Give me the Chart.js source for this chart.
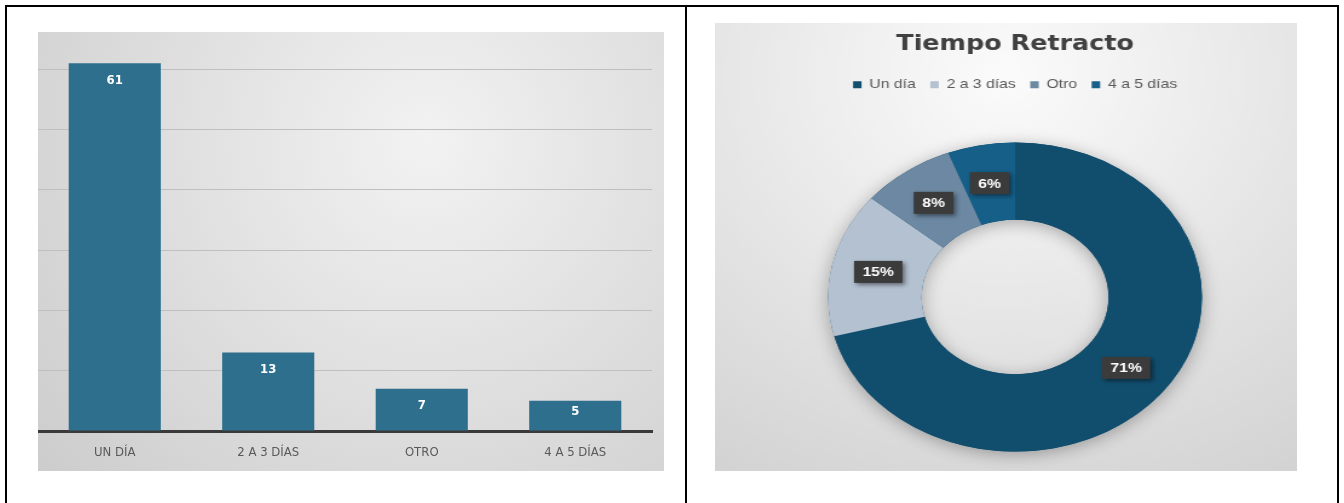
<!DOCTYPE html>
<html lang="es">
<head>
<meta charset="utf-8">
<title>Tiempo Retracto</title>
<script src="https://cdn.jsdelivr.net/npm/chart.js@4.4.1/dist/chart.umd.min.js"></script>
<style>
  html, body { margin: 0; padding: 0; background: #fff; }
  body { width: 1344px; height: 503px; position: relative; overflow: hidden; }
  .linea { position: absolute; background: #000; }
  #barras { position: absolute; left: 38px; top: 32px; }
  #dona { position: absolute; left: 715px; top: 23px; }
</style>
</head>
<body>
<div class="linea" style="left:5px; top:5px; width:1334px; height:2px"></div>
<div class="linea" style="left:5px; top:5px; width:2px; height:498px"></div>
<div class="linea" style="left:685px; top:5px; width:2px; height:498px"></div>
<div class="linea" style="left:1337px; top:5px; width:2px; height:498px"></div>
<canvas id="barras" width="626" height="439" style="width:626px; height:439px"></canvas>
<!-- la dona va estirada a lo ancho, como la imagen original -->
<canvas id="dona" width="481" height="470" style="width:582px; height:470px"></canvas>

<script>
// Datos
const categoriasBarras = ['UN DÍA', '2 A 3 DÍAS', 'OTRO', '4 A 5 DÍAS'];
const valoresBarras = [61, 13, 7, 5];
const tituloDona = 'Tiempo Retracto';
const categoriasDona = ['Un día', '2 a 3 días', 'Otro', '4 a 5 días'];
const valoresDona = [61, 13, 7, 5];
const coloresDona = ['#114e6e', '#b3c1d0', '#6c88a2', '#155f88'];

const fuenteAngosta = '"Liberation Sans Narrow", "DejaVu Sans Condensed", sans-serif';

document.addEventListener('DOMContentLoaded', () => {
    Chart.defaults.animation = false;
    Chart.defaults.plugins.tooltip.enabled = false;

    // Fondo gris degradado del grafico de barras
    const fondoBarras = {
        id: 'fondoBarras',
        beforeDraw(chart) {
            const { ctx, width, height } = chart;
            const g = ctx.createRadialGradient(width * 0.62, height * 0.25, 0, width * 0.62, height * 0.25, width * 0.8);
            g.addColorStop(0, '#f2f2f2');
            g.addColorStop(1, '#cdcdcd');
            ctx.save();
            ctx.fillStyle = g;
            ctx.fillRect(0, 0, width, height);
            ctx.restore();
        }
    };

    // Valores blancos dentro de cada barra
    const etiquetasBarras = {
        id: 'etiquetasBarras',
        afterDatasetsDraw(chart) {
            const { ctx } = chart;
            const meta = chart.getDatasetMeta(0);
            ctx.save();
            ctx.fillStyle = '#ffffff';
            ctx.font = 'bold 13px ' + fuenteAngosta;
            ctx.textAlign = 'center';
            ctx.textBaseline = 'middle';
            meta.data.forEach((bar, i) => {
                const alto = bar.base - bar.y;
                const y = bar.y + Math.min(17, alto - 19);
                ctx.fillText(String(valoresBarras[i]), bar.x, y);
            });
            ctx.restore();
        }
    };

    new Chart(document.getElementById('barras'), {
        type: 'bar',
        data: {
            labels: categoriasBarras,
            datasets: [{
                data: valoresBarras,
                backgroundColor: '#2e6f8e',
                borderWidth: 0,
                barPercentage: 0.6,
                categoryPercentage: 1.0
            }]
        },
        options: {
            responsive: false,
            devicePixelRatio: 1,
            layout: { padding: { left: 0, right: 12, top: 1, bottom: 0 } },
            plugins: { legend: { display: false } },
            scales: {
                x: {
                    grid: { display: false, drawTicks: false },
                    border: { display: true, color: '#3a3a3a', width: 3 },
                    ticks: {
                        color: '#595959',
                        padding: 14,
                        font: { family: fuenteAngosta, size: 13 }
                    },
                    afterFit: (scale) => { scale.height = 40; }
                },
                y: {
                    min: 0,
                    max: 66,
                    grid: { color: '#bfbfbf', lineWidth: 1, drawTicks: false },
                    border: { display: false },
                    ticks: { display: false, stepSize: 10, includeBounds: false }
                }
            }
        },
        plugins: [fondoBarras, etiquetasBarras]
    });

    // Fondo, sombra del anillo y etiquetas de porcentaje de la dona
    const fondoDona = {
        id: 'fondoDona',
        beforeDraw(chart) {
            const { ctx, width } = chart;
            const alto = 448;
            const g = ctx.createRadialGradient(width * 0.5, alto * 0.12, 0, width * 0.5, alto * 0.12, width * 0.95);
            g.addColorStop(0, '#fbfbfb');
            g.addColorStop(1, '#d3d3d3');
            ctx.save();
            ctx.fillStyle = g;
            ctx.fillRect(0, 0, width, alto);
            ctx.restore();
        },
        beforeDatasetsDraw(chart) {
            const { ctx } = chart;
            const arco = chart.getDatasetMeta(0).data[0];
            if (!arco) return;
            ctx.save();
            ctx.shadowColor = 'rgba(0, 0, 0, 0.3)';
            ctx.shadowBlur = 16;
            ctx.shadowOffsetY = 3;
            ctx.fillStyle = coloresDona[0];
            ctx.beginPath();
            ctx.arc(arco.x, arco.y, arco.outerRadius, 0, Math.PI * 2);
            ctx.arc(arco.x, arco.y, arco.innerRadius, 0, Math.PI * 2, true);
            ctx.fill('evenodd');
            ctx.restore();
        },
        afterDatasetsDraw(chart) {
            const { ctx } = chart;
            const meta = chart.getDatasetMeta(0);
            const total = valoresDona.reduce((a, b) => a + b, 0);
            ctx.save();
            ctx.font = 'bold 13px "Liberation Sans", Arial, sans-serif';
            ctx.textAlign = 'center';
            ctx.textBaseline = 'middle';
            meta.data.forEach((arco, i) => {
                const p = arco.getCenterPoint();
                const texto = Math.round(valoresDona[i] / total * 100) + '%';
                const w = ctx.measureText(texto).width + 14;
                const h = 22;
                ctx.save();
                ctx.shadowColor = 'rgba(0, 0, 0, 0.45)';
                ctx.shadowBlur = 4;
                ctx.shadowOffsetX = 2;
                ctx.shadowOffsetY = 2;
                ctx.fillStyle = '#3b3b3b';
                ctx.fillRect(p.x - w / 2, p.y - h / 2, w, h);
                ctx.restore();
                ctx.fillStyle = '#ffffff';
                ctx.fillText(texto, p.x, p.y + 1);
            });
            ctx.restore();
        }
    };

    new Chart(document.getElementById('dona'), {
        type: 'doughnut',
        data: {
            labels: categoriasDona,
            datasets: [{
                data: valoresDona,
                backgroundColor: coloresDona,
                borderWidth: 0,
                radius: 154.5,
                cutout: '50%'
            }]
        },
        options: {
            responsive: false,
            devicePixelRatio: 1,
            layout: { padding: { left: 15, right: 0, top: 0, bottom: 0 } },
            plugins: {
                title: {
                    display: true,
                    text: tituloDona,
                    color: '#404040',
                    font: { family: '"DejaVu Sans", sans-serif', size: 21, weight: 'bold' },
                    padding: { top: 9, bottom: 9 }
                },
                legend: {
                    display: true,
                    position: 'top',
                    labels: {
                        color: '#595959',
                        boxWidth: 7,
                        boxHeight: 7,
                        padding: 12,
                        font: { family: '"Liberation Sans", Arial, sans-serif', size: 13 }
                    }
                }
            }
        },
        plugins: [fondoDona]
    });
});
</script>
</body>
</html>
